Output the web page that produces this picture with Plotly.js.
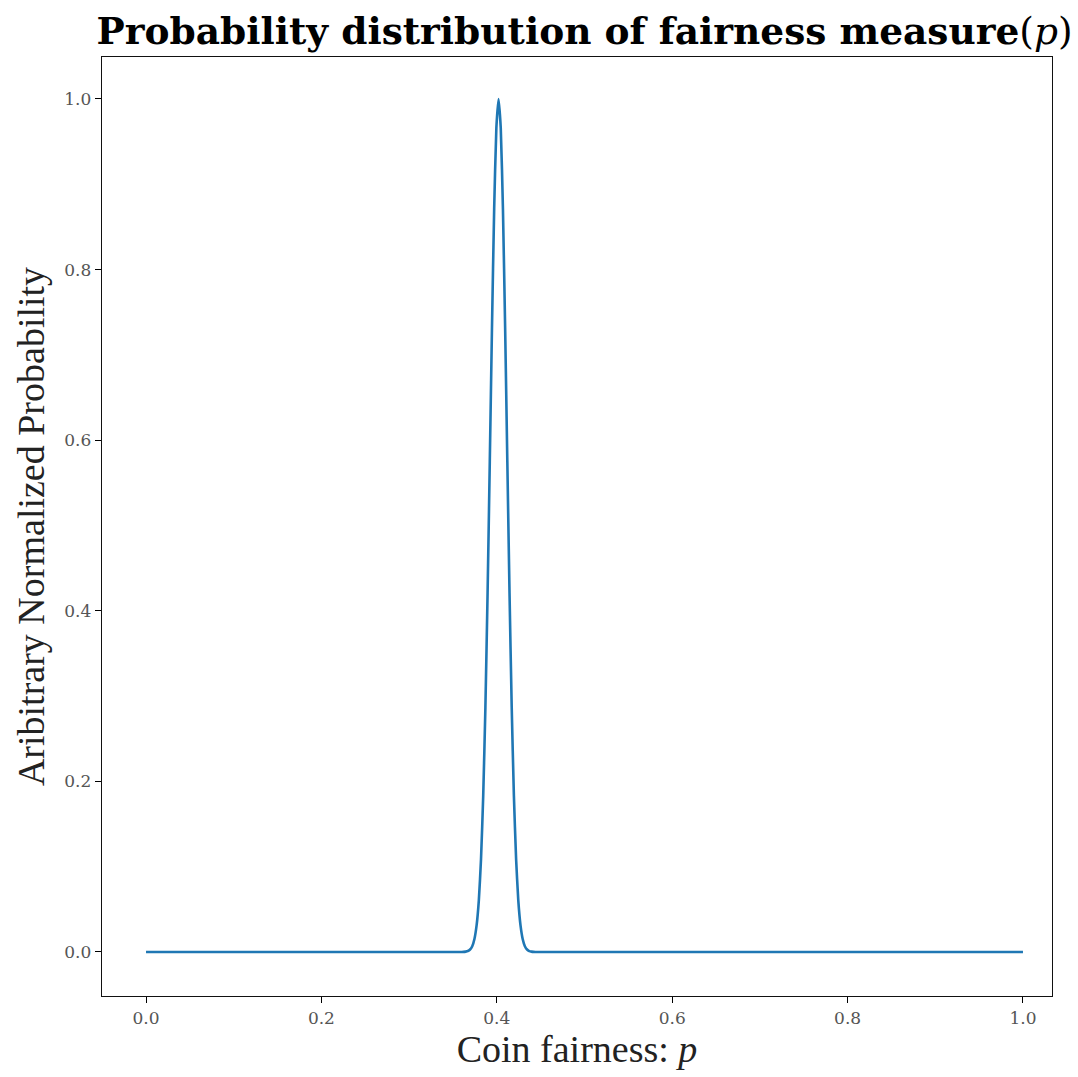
<!DOCTYPE html>
<html>
<head>
<meta charset="utf-8">
<script src="https://cdn.plot.ly/plotly-3.0.1.min.js"></script>
<style>html,body{margin:0;padding:0;background:#fff}#chart{width:1078px;height:1077px}</style>
</head>
<body>
<div id="chart"></div>
<script>
// Values (coin fairness p, normalized probability)
const pValues = [0.0, 0.2, 0.34, 0.36, 0.362, 0.3645, 0.367, 0.3695, 0.372, 0.3745, 0.377, 0.3795, 0.382, 0.3845,
                 0.387, 0.3895, 0.392, 0.3945, 0.397, 0.3995, 0.402, 0.4045, 0.407, 0.4095, 0.412, 0.4145, 0.417,
                 0.4195, 0.422, 0.4245, 0.427, 0.4295, 0.432, 0.4345, 0.437, 0.4395, 0.442, 0.444, 0.46, 0.6, 0.8, 1.0];
const probValues = [0.0, 0.0, 0.0, 0.0, 0.0001, 0.0004, 0.0011, 0.0029, 0.0068, 0.0152, 0.0314, 0.0605, 0.109, 0.183,
                    0.287, 0.421, 0.575, 0.732, 0.871, 0.966, 1.0, 0.966, 0.871, 0.732, 0.575, 0.421, 0.287,
                    0.183, 0.109, 0.0605, 0.0314, 0.0152, 0.0068, 0.0029, 0.0011, 0.0004, 0.0001, 0.0, 0.0, 0.0, 0.0, 0.0];
const xTicks = [0.0, 0.2, 0.4, 0.6, 0.8, 1.0];
const yTicks = [0.0, 0.2, 0.4, 0.6, 0.8, 1.0];
const tickLabels = ["0.0", "0.2", "0.4", "0.6", "0.8", "1.0"];

const trace = {
  x: pValues,
  y: probValues,
  type: 'scatter',
  mode: 'lines',
  line: {color: '#1f77b4', width: 2.6, shape: 'spline', smoothing: 0.5},
  hoverinfo: 'x+y'
};

const serif = '"Liberation Serif", "DejaVu Serif", serif';
const tickSerif = '"DejaVu Serif", "Liberation Serif", serif';
const layout = {
  width: 1078, height: 1077,
  margin: {l: 102, r: 26, t: 57, b: 81},
  paper_bgcolor: '#fff', plot_bgcolor: '#fff',
  showlegend: false,
  title: {
    text: '<b>Probability distribution of fairness measure</b>(<i>p</i>)',
    font: {family: '"DejaVu Serif", serif', size: 37.5, color: '#000'},
    x: 0.508, xref: 'paper', xanchor: 'center',
    y: 1 - 31/1077, yref: 'container', yanchor: 'middle'
  },
  xaxis: {
    range: [-0.0502, 1.0331],
    tickvals: xTicks, ticktext: tickLabels,
    ticks: 'outside', ticklen: 6, tickwidth: 1, tickcolor: '#000',
    showline: true, linecolor: '#111', linewidth: 1.3, mirror: true,
    showgrid: false, zeroline: false,
    tickfont: {family: tickSerif, size: 17, color: '#555'},
    title: {text: 'Coin fairness: <i>p</i>', font: {family: serif, size: 38, color: '#222'}, standoff: 8}
  },
  yaxis: {
    range: [-0.0516, 1.0492],
    tickvals: yTicks, ticktext: tickLabels,
    ticks: 'outside', ticklen: 6, tickwidth: 1, tickcolor: '#000',
    showline: true, linecolor: '#111', linewidth: 1.3, mirror: true,
    showgrid: false, zeroline: false,
    tickfont: {family: tickSerif, size: 17, color: '#555'},
    title: {text: 'Aribitrary Normalized Probability', font: {family: serif, size: 38, color: '#222'}, standoff: 8}
  }
};
Plotly.newPlot('chart', [trace], layout, {displayModeBar: false, staticPlot: true});
</script>
</body>
</html>
